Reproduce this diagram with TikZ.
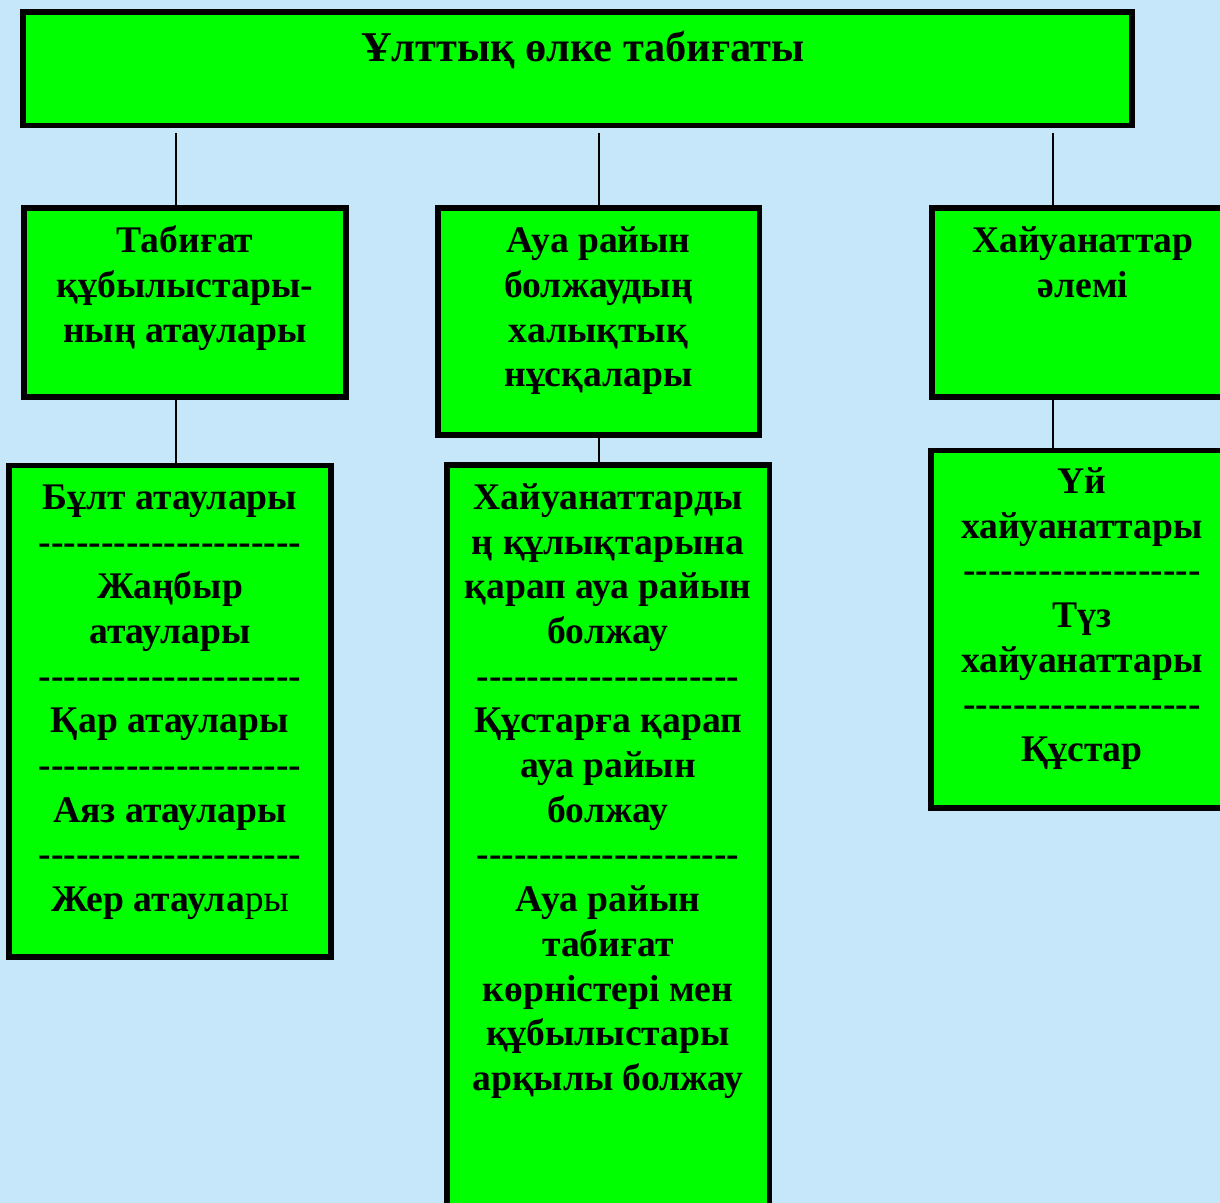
\documentclass[tikz,border=0pt]{standalone}
\usepackage{fontspec}
\setmainfont{Liberation Serif}
\usetikzlibrary{fit}
\definecolor{bgblue}{RGB}{198,230,250}
\definecolor{boxgreen}{RGB}{0,255,0}
\newcommand\mylines[1]{\begin{tabular}[t]{@{}c@{}}#1\end{tabular}}
\newcommand\hy{-\kern0pt}
\newcommand\dashesA{\hy\hy\hy\hy\hy\hy\hy\hy\hy\hy\hy\hy\hy\hy\hy\hy\hy\hy\hy\hy\hy}
\newcommand\dashesC{\hy\hy\hy\hy\hy\hy\hy\hy\hy\hy\hy\hy\hy\hy\hy\hy\hy\hy\hy}
\begin{document}
\begin{tikzpicture}[x=0.5pt,y=-0.5pt,
  box/.style={draw=black,fill=boxgreen,line width=2.75pt,inner sep=0pt,rectangle},
  txt/.style={anchor=base,inner sep=0pt,font=\fontsize{18.8}{22.35}\selectfont\bfseries},
  conn/.style={draw=black,line width=1pt}]
\fill[bgblue] (0,0) rectangle (1220,1203);
\useasboundingbox (0,0) rectangle (1220,1203);
\clip (0,0) rectangle (1220,1203);
% boxes
\node[box,fit={(23,12) (1132,125.5)}] (top) {};
\node[box,fit={(24,208) (346,397)}] (l2a) {};
\node[box,fit={(438,208) (759.5,435)}] (l2b) {};
\node[box,fit={(932,208) (1250,397)}] (l2c) {};
\node[box,fit={(9,465.5) (331,957)}] (l3a) {};
\node[box,fit={(447,465) (769.5,1250)}] (l3b) {};
\node[box,fit={(931,450.3) (1250,808)}] (l3c) {};
% connectors
\coordinate (ca) at (175.7,133);
\coordinate (cb) at (599,133);
\coordinate (cc) at (1052.5,133);
\draw[conn] (ca) -- (ca |- l2a.north);
\draw[conn] (cb) -- (cb |- l2b.north);
\draw[conn] (cc) -- (cc |- l2c.north);
\draw[conn] (l2a.south -| ca) -- (l3a.north -| ca);
\draw[conn] (l2b.south -| cb) -- (l3b.north -| cb);
\draw[conn] (l2c.south -| cc) -- (l3c.north -| cc);
% texts
\node[txt,font=\fontsize{21.2}{24}\selectfont\bfseries] (t0) at (583,61.5) {\mylines{Ұлттық өлке табиғаты}};
\node[txt] (t2a) at (185,252.7) {\mylines{Табиғат\\құбылыстары-\\ның атаулары}};
\node[txt] (t2b) at (598.5,252.7) {\mylines{Ауа райын\\болжаудың\\халықтық\\нұсқалары}};
\node[txt] (t2c) at (1083,252.7) {\mylines{Хайуанаттар\\әлемі}};
\node[txt] (t3a) at (170,509.3) {\mylines{Бұлт атаулары\\\dashesA\\Жаңбыр\\атаулары\\\dashesA\\Қар атаулары\\\dashesA\\Аяз атаулары\\\dashesA\\Жер атаула{\mdseries ры}}};
\node[txt] (t3b) at (608,509.3) {\mylines{Хайуанаттарды\\ң құлықтарына\\қарап ауа райын\\болжау\\\dashesA\\Құстарға қарап\\ауа райын\\болжау\\\dashesA\\Ауа райын\\табиғат\\көрністері мен\\құбылыстары\\арқылы болжау}};
\node[txt] (t3c) at (1082,493.3) {\mylines{Үй\\хайуанаттары\\\dashesC\\Түз\\хайуанаттары\\\dashesC\\Құстар}};
\end{tikzpicture}
\end{document}
